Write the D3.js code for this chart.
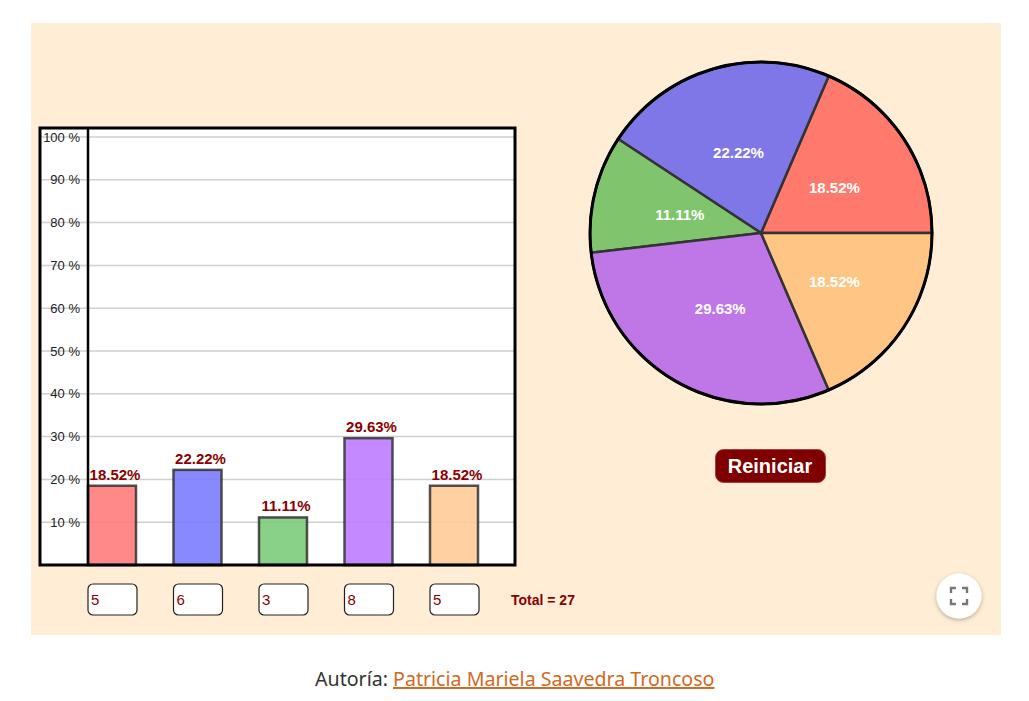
<!DOCTYPE html>
<html><head><meta charset="utf-8">
<script src="https://cdn.jsdelivr.net/npm/d3@7"></script>
<style>
html,body{margin:0;padding:0;background:#fff;}
svg{display:block;}
</style></head>
<body>
<svg id="c" width="1029" height="701"></svg>
<script>
const categories = ["A","B","C","D","E"];
const counts = [5, 6, 3, 8, 5];
const barColors = ["#ff7f7f","#7f7fff","#7fcc7f","#bf7fff","#ffcc99"];
const pieColors = ["#ff796c","#7f77e8","#80c46e","#bf77e8","#ffc584"];
const yTicks = [10,20,30,40,50,60,70,80,90,100];
const totalLabel = "Total = ";

const total = d3.sum(counts);
const pct = counts.map(c => c / total * 100);
const fmt = v => v.toFixed(2) + "%";

const svg = d3.select("#c");
const font = "'Liberation Sans', Arial, sans-serif";

// panel
svg.append("rect").attr("x",31).attr("y",23).attr("width",970).attr("height",612).attr("fill","#ffeed5");

// bar chart frame
const fx0 = 40, fx1 = 515, fy0 = 128, fy1 = 565, ax = 88;
svg.append("rect").attr("x",fx0).attr("y",fy0).attr("width",fx1-fx0).attr("height",fy1-fy0).attr("fill","#fff");

const y = d3.scaleLinear().domain([0,100]).range([fy1, 137]);
const pIn = 37.5/85.5;
const x = d3.scaleBand().domain(categories).range([88, 88 + 85.5*(5 - pIn)]).paddingInner(pIn).paddingOuter(0);
const bw = x.bandwidth();
const bx = c => x(c);

// grid lines
svg.append("g").selectAll("line").data(yTicks).join("line")
  .attr("x1",fx0).attr("x2",fx1).attr("y1",d=>y(d)).attr("y2",d=>y(d))
  .attr("stroke","#cfcfcf").attr("stroke-width",1.5);

// tick labels
svg.append("g").selectAll("text").data(yTicks).join("text")
  .attr("x",80).attr("y",d=>y(d)+4.5).attr("text-anchor","end")
  .attr("font-family",font).attr("font-size",13).attr("fill","#222")
  .text(d=>d+" %");

// bars
svg.append("g").selectAll("rect").data(pct).join("rect")
  .attr("x",(d,i)=>bx(categories[i])).attr("y",d=>y(d)).attr("width",bw).attr("height",d=>y(0)-y(d))
  .attr("fill",(d,i)=>barColors[i]).attr("fill-opacity",0.92)
  .attr("stroke","#333").attr("stroke-opacity",0.85).attr("stroke-width",2.5);

// bar value labels
svg.append("g").selectAll("text").data(pct).join("text")
  .attr("x",(d,i)=>bx(categories[i])+bw/2+3).attr("y",d=>y(d)-6).attr("text-anchor","middle")
  .attr("font-family",font).attr("font-weight","bold").attr("font-size",15).attr("fill","#8b0000")
  .text(d=>fmt(d));

// frame lines
svg.append("rect").attr("x",fx0).attr("y",fy0).attr("width",fx1-fx0).attr("height",fy1-fy0)
  .attr("fill","none").attr("stroke","#000").attr("stroke-width",3);
svg.append("line").attr("x1",ax).attr("x2",ax).attr("y1",fy0).attr("y2",fy1).attr("stroke","#000").attr("stroke-width",2.5);

// input boxes
const ib = svg.append("g").selectAll("g").data(counts).join("g")
  .attr("transform",(d,i)=>`translate(${bx(categories[i])},584)`);
ib.append("rect").attr("width",49).attr("height",31).attr("rx",5)
  .attr("fill","#fff").attr("stroke","#222").attr("stroke-width",1.2);
ib.append("text").attr("x",3).attr("y",21).attr("font-family",font).attr("font-size",15).attr("fill","#8b0000").text(d=>d);

svg.append("text").attr("x",511).attr("y",605).attr("font-family",font).attr("font-weight","bold")
  .attr("font-size",14).attr("fill","#8b0000").text(totalLabel + total);

// pie
const cx = 761, cy = 233, R = 171;
const pie = d3.pie().sort(null).startAngle(Math.PI/2).endAngle(Math.PI/2 - 2*Math.PI);
const arcs = pie(counts);
const arc = d3.arc().innerRadius(0).outerRadius(R);
const pg = svg.append("g").attr("transform",`translate(${cx},${cy})`);
pg.selectAll("path").data(arcs).join("path")
  .attr("d",arc).attr("fill",(d,i)=>pieColors[i])
  .attr("stroke","#333").attr("stroke-width",2.5).attr("stroke-linejoin","round");
pg.append("circle").attr("r",R).attr("fill","none").attr("stroke","#000").attr("stroke-width",3);
pg.selectAll("text").data(arcs).join("text")
  .attr("transform",d=>{const c=arc.centroid(d);return `translate(${c[0]+2},${c[1]+7})`;})
  .attr("text-anchor","middle").attr("font-family",font).attr("font-weight","bold")
  .attr("font-size",15).attr("fill","#fff")
  .text((d,i)=>fmt(pct[i]));

// Reiniciar button
svg.append("rect").attr("x",715.5).attr("y",449.5).attr("width",110).attr("height",33).attr("rx",8)
  .attr("fill","#800000").attr("stroke","#a04040").attr("stroke-width",1);
svg.append("text").attr("x",770).attr("y",473).attr("text-anchor","middle")
  .attr("font-family",font).attr("font-weight","bold").attr("font-size",20).attr("fill","#fff").text("Reiniciar");

// fullscreen button
const defs = svg.append("defs");
const f = defs.append("filter").attr("id","sh").attr("x","-50%").attr("y","-50%").attr("width","200%").attr("height","200%");
f.append("feDropShadow").attr("dx",0).attr("dy",1.5).attr("stdDeviation",2).attr("flood-color","#000").attr("flood-opacity",0.3);
svg.append("circle").attr("cx",959).attr("cy",596).attr("r",22.5).attr("fill","#fff").attr("filter","url(#sh)");
const ic = svg.append("g").attr("transform","translate(959,596)").attr("fill","none").attr("stroke","#777").attr("stroke-width",2.4);
ic.append("path").attr("d","M-8,-3 V-8 H-3 M3,-8 H8 V-3 M8,3 V8 H3 M-3,8 H-8 V3");

// footer
const ft = svg.append("text").attr("x",315).attr("y",686).attr("font-family","'Noto Sans', 'Open Sans', sans-serif").attr("font-size",19.6);
ft.append("tspan").attr("fill","#333").text("Autoría: ");
ft.append("tspan").attr("fill","#d2691e").attr("text-decoration","underline").text("Patricia Mariela Saavedra Troncoso");
</script>
</body></html>
